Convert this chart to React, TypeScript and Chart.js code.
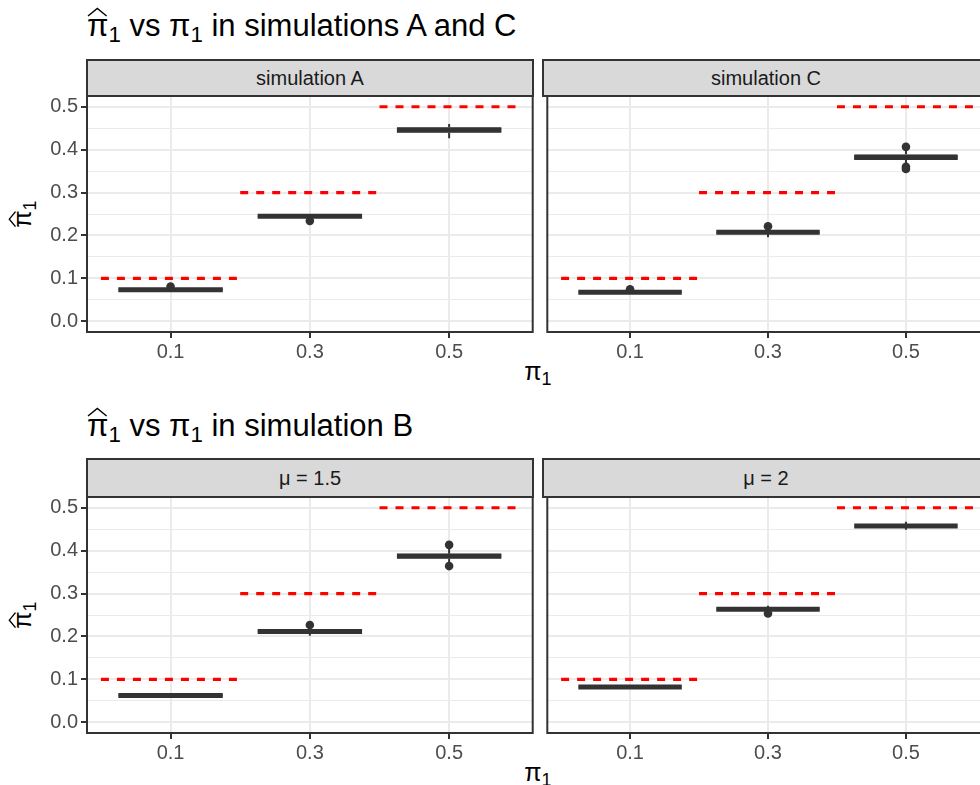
import React, { useEffect, useRef } from 'react';
import { Chart, registerables } from 'chart.js';

Chart.register(...registerables);
Chart.defaults.font.family = "'Liberation Sans', Arial, sans-serif";

// ---------------- data ----------------
const CATEGORIES = ['0.1', '0.3', '0.5'];
const TRUE_PI = [0.1, 0.3, 0.5];
const Y_MAJOR = [0, 0.1, 0.2, 0.3, 0.4, 0.5];
const Y_MINOR = [0.05, 0.15, 0.25, 0.35, 0.45];

// box stats per category: [lower whisker, q1, median, q3, upper whisker]
const SIM_A_BOX = [
  [0.0705, 0.0722, 0.0736, 0.075, 0.0765],
  [0.2400, 0.2428, 0.2445, 0.2462, 0.2495],
  [0.4266, 0.4395, 0.4458, 0.452, 0.4599],
];
const SIM_A_OUT = [[0.081], [0.234], []];

const SIM_C_BOX = [
  [0.064, 0.0662, 0.0678, 0.0693, 0.0712],
  [0.196, 0.2052, 0.2072, 0.209, 0.214],
  [0.368, 0.3765, 0.3817, 0.3895, 0.4],
];
const SIM_C_OUT = [[0.0745], [0.2215], [0.4065, 0.36, 0.355]];

const MU15_BOX = [
  [0.0605, 0.0612, 0.0625, 0.0638, 0.0645],
  [0.2015, 0.2102, 0.2118, 0.2135, 0.2165],
  [0.3665, 0.381, 0.3875, 0.393, 0.409],
];
const MU15_OUT = [[], [0.2265], [0.4135, 0.364]];

const MU2_BOX = [
  [0.0805, 0.0808, 0.082, 0.0832, 0.0835],
  [0.2485, 0.2618, 0.2635, 0.2652, 0.2715],
  [0.4485, 0.4562, 0.4575, 0.4588, 0.4675],
];
const MU2_OUT = [[], [0.2535], []];

// ---------------- layout ----------------
const PANEL_W = 446;
const PANEL_H = 236;
const COL_LEFT = [87, 543];
const Y_AXIS_W = 67;
const PAD_TOP = 20;
const PAD_RIGHT = 4;
const X_AXIS_H = 40;
const BOX_WIDTH = 0.75;
const FONT = "'Liberation Sans', Arial, sans-serif";

const ROWS = [
  { titleTop: 9.7, stripTop: 59, stripH: 38, panelTop: 96, xTitleTop: 358.8, yTitleY: 214, title: 'in simulations A and C' },
  { titleTop: 409.7, stripTop: 458, stripH: 40, panelTop: 497, xTitleTop: 759.8, yTitleY: 615, title: 'in simulation B' },
];

const PANELS = [
  { row: 0, col: 0, strip: 'simulation A', boxes: SIM_A_BOX, outliers: SIM_A_OUT },
  { row: 0, col: 1, strip: 'simulation C', boxes: SIM_C_BOX, outliers: SIM_C_OUT },
  { row: 1, col: 0, strip: 'μ = 1.5', boxes: MU15_BOX, outliers: MU15_OUT },
  { row: 1, col: 1, strip: 'μ = 2', boxes: MU2_BOX, outliers: MU2_OUT },
];

const isMajor = (v: number) => Math.abs(v * 10 - Math.round(v * 10)) < 1e-6;

const borderPlugin = {
  id: 'panelBorder',
  afterDraw(chart: any) {
    const { ctx, chartArea: a } = chart;
    ctx.save();
    ctx.strokeStyle = '#333333';
    ctx.lineWidth = 2;
    ctx.strokeRect(a.left, a.top, a.right - a.left, a.bottom - a.top);
    ctx.restore();
  },
};

function Panel({ boxes, outliers, showY, left, top }: any) {
  const ref = useRef<HTMLCanvasElement>(null);
  const yW = showY ? Y_AXIS_W : 0;
  const w = yW + PANEL_W + PAD_RIGHT;
  const h = PAD_TOP + PANEL_H + X_AXIS_H;

  useEffect(() => {
    if (!ref.current) return;
    const half = BOX_WIDTH / 2;
    const datasets: any[] = [
      {
        type: 'line',
        data: outliers.flatMap((arr: number[], i: number) => arr.map((v) => ({ x: i + 1, y: v }))),
        showLine: false,
        pointRadius: 4.3,
        pointBorderWidth: 0,
        pointBackgroundColor: '#333333',
      },
      {
        type: 'line',
        data: boxes.flatMap((b: number[], i: number) => [
          { x: i + 1 - half, y: b[2] },
          { x: i + 1 + half, y: b[2] },
          { x: i + 1 + half, y: null },
        ]),
        borderColor: '#333333',
        borderWidth: 5,
        pointRadius: 0,
        spanGaps: false,
      },
      {
        type: 'bar',
        data: boxes.map((b: number[], i: number) => ({ x: i + 1, y: [b[1], b[3]] })),
        backgroundColor: '#FFFFFF',
        borderColor: '#333333',
        borderWidth: 2,
        borderSkipped: false,
        categoryPercentage: 1,
        barPercentage: BOX_WIDTH,
      },
      {
        type: 'line',
        data: boxes.flatMap((b: number[], i: number) => [
          { x: i + 1, y: b[0] },
          { x: i + 1, y: b[1] },
          { x: i + 1, y: null },
          { x: i + 1, y: b[3] },
          { x: i + 1, y: b[4] },
          { x: i + 1, y: null },
        ]),
        borderColor: '#333333',
        borderWidth: 2,
        pointRadius: 0,
        spanGaps: false,
      },
      {
        type: 'line',
        data: TRUE_PI.flatMap((v, i) => [
          { x: i + 0.5, y: v },
          { x: i + 1.5, y: v },
          { x: i + 1.5, y: null },
        ]),
        borderColor: '#FF0000',
        borderWidth: 3.2,
        borderDash: [8, 8],
        pointRadius: 0,
        spanGaps: false,
      },
    ];

    const chart = new Chart(ref.current, {
      type: 'bar',
      data: { datasets },
      plugins: [borderPlugin],
      options: {
        animation: false,
        responsive: false,
        events: [],
        layout: { padding: { top: PAD_TOP, right: PAD_RIGHT, left: 0, bottom: 0 } },
        plugins: { legend: { display: false }, tooltip: { enabled: false }, title: { display: false } },
        scales: {
          x: {
            type: 'linear',
            min: 0.4,
            max: 3.6,
            offset: false,
            afterBuildTicks: (s: any) => {
              s.ticks = CATEGORIES.map((_, i) => ({ value: i + 1 }));
            },
            afterFit: (s: any) => {
              s.height = X_AXIS_H;
            },
            ticks: {
              callback: (v: any) => CATEGORIES[Math.round(Number(v)) - 1] ?? '',
              color: '#4D4D4D',
              font: { size: 20 },
              padding: 2,
              maxRotation: 0,
              autoSkip: false,
            },
            grid: { color: '#EBEBEB', lineWidth: 2, tickColor: '#333333', tickLength: 6, tickWidth: 2, offset: false },
            border: { display: false },
          },
          y: {
            type: 'linear',
            min: -0.025,
            max: 0.525,
            afterBuildTicks: (s: any) => {
              s.ticks = [...Y_MAJOR, ...Y_MINOR].sort((a, b) => a - b).map((v) => ({ value: v }));
            },
            afterFit: (s: any) => {
              s.width = yW;
            },
            ticks: {
              display: showY,
              callback: (v: any) => (isMajor(Number(v)) ? Number(v).toFixed(1) : ''),
              color: '#4D4D4D',
              font: { size: 20 },
              padding: 3,
              autoSkip: false,
            },
            grid: {
              color: '#EBEBEB',
              lineWidth: (c: any) => (c.tick && isMajor(c.tick.value) ? 2 : 1),
              tickColor: (c: any) => (showY && c.tick && isMajor(c.tick.value) ? '#333333' : 'rgba(0,0,0,0)'),
              tickLength: 6,
              tickWidth: 2,
              drawTicks: showY,
            },
            border: { display: false },
          },
        },
      } as any,
    });
    return () => chart.destroy();
  }, []);

  return (
    <canvas
      ref={ref}
      width={w}
      height={h}
      style={{ position: 'absolute', left: left - yW, top: top - PAD_TOP, width: w, height: h }}
    />
  );
}

function PiHat() {
  return (
    <span style={{ position: 'relative', display: 'inline-block' }}>
      π
      <svg
        viewBox="0 0 10 4"
        preserveAspectRatio="none"
        style={{ position: 'absolute', left: '0.02em', top: '-0.06em', width: '0.6em', height: '0.26em', overflow: 'visible' }}
      >
        <polyline points="0,4 5,0.2 10,4" fill="none" stroke="currentColor" strokeWidth={1.4} vectorEffect="non-scaling-stroke" />
      </svg>
    </span>
  );
}

const Sub = ({ children }: any) => (
  <span style={{ fontSize: '0.72em', position: 'relative', top: '0.28em' }}>{children}</span>
);

export default function App() {
  return (
    <div
      style={{
        position: 'fixed',
        left: 0,
        top: 0,
        width: 980,
        height: 785,
        overflow: 'hidden',
        background: '#FFFFFF',
        fontFamily: FONT,
        color: '#000000',
      }}
    >
      {ROWS.map((r, ri) => (
        <React.Fragment key={ri}>
          <div style={{ position: 'absolute', left: 87, top: r.titleTop, fontSize: 31, lineHeight: '31px', whiteSpace: 'nowrap' }}>
            <PiHat />
            <Sub>1</Sub> vs π<Sub>1</Sub> {r.title}
          </div>
          <div
            style={{
              position: 'absolute',
              left: 538,
              top: r.xTitleTop,
              transform: 'translateX(-50%)',
              fontSize: 25,
              lineHeight: '25px',
              whiteSpace: 'nowrap',
            }}
          >
            π<Sub>1</Sub>
          </div>
          <div
            style={{
              position: 'absolute',
              left: 24,
              top: r.yTitleY,
              transform: 'translate(-50%, -50%) rotate(-90deg)',
              fontSize: 25,
              lineHeight: '25px',
              whiteSpace: 'nowrap',
            }}
          >
            <PiHat />
            <Sub>1</Sub>
          </div>
        </React.Fragment>
      ))}
      {PANELS.map((p, i) => {
        const r = ROWS[p.row];
        const left = COL_LEFT[p.col];
        return (
          <React.Fragment key={i}>
            <div
              style={{
                position: 'absolute',
                left: left - 1,
                top: r.stripTop,
                width: PANEL_W + 2,
                height: r.stripH,
                boxSizing: 'border-box',
                border: '2px solid #333333',
                background: '#D9D9D9',
                display: 'flex',
                alignItems: 'center',
                justifyContent: 'center',
                fontSize: 20,
                color: '#1A1A1A',
                whiteSpace: 'nowrap',
              }}
            >
              {p.strip}
            </div>
            <Panel boxes={p.boxes} outliers={p.outliers} showY={p.col === 0} left={left} top={r.panelTop} />
          </React.Fragment>
        );
      })}
    </div>
  );
}
